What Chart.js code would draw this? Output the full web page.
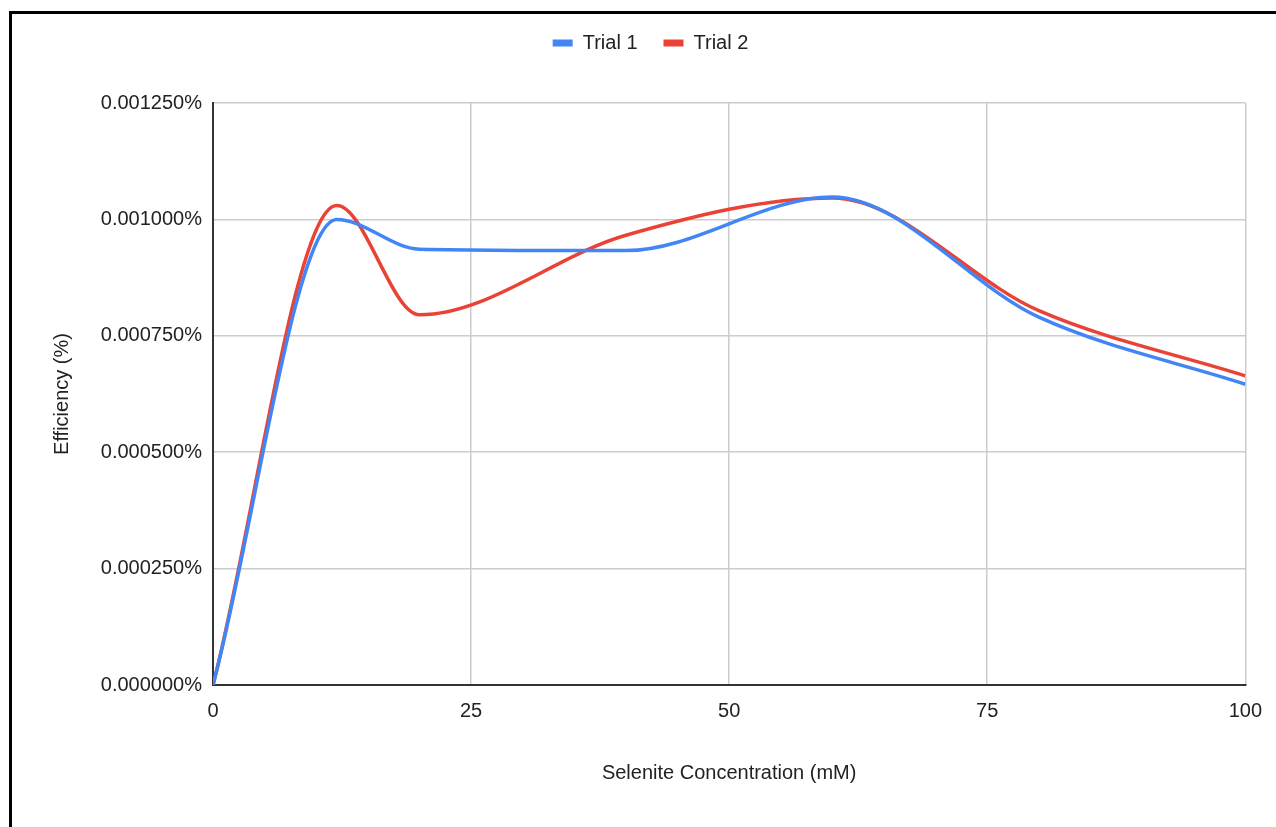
<!DOCTYPE html>
<html>
<head>
<meta charset="utf-8">
<script src="https://cdn.jsdelivr.net/npm/chart.js@4/dist/chart.umd.min.js"></script>
<style>
  html, body { margin: 0; padding: 0; background: #fff; }
  #wrap { position: relative; width: 1276px; height: 827px; }
  #frame { position: absolute; left: 9px; top: 11px; right: -5px; bottom: -5px;
           border-left: 3px solid #000; border-top: 3px solid #000; pointer-events: none; }
  canvas { position: absolute; left: 0; top: 0; }
</style>
</head>
<body>
<div id="wrap">
  <canvas id="c" width="1276" height="827"></canvas>
  <div id="frame"></div>
</div>
<script>
// Selenite concentration (mM)
const concentrations = [0, 12, 20, 40, 60, 80, 100];
// Efficiency (%) values
const trial1 = [0, 0.001000, 0.000936, 0.000933, 0.001048, 0.000790, 0.000646];
const trial2 = [0, 0.001030, 0.000795, 0.000966, 0.001046, 0.000804, 0.000664];
const seriesNames = ['Trial 1', 'Trial 2'];
const xTicks = [0, 25, 50, 75, 100];
const yTicks = [0, 0.00025, 0.0005, 0.00075, 0.001, 0.00125];

const FONT = "'Liberation Sans', Arial, sans-serif";

const legendHeightPlugin = {
  id: 'legendHeight',
  beforeLayout(chart) {
    const lg = chart.legend;
    if (lg && !lg._patched) {
      const f = lg.fit;
      lg.fit = function () { f.call(this); this.height = 96; };
      lg._patched = true;
    }
  }
};

new Chart(document.getElementById('c'), {
  type: 'line',
  data: {
    datasets: [
      { label: seriesNames[0], data: concentrations.map((x, i) => ({ x, y: trial1[i] })),
        borderColor: '#4285F4', backgroundColor: '#4285F4' },
      { label: seriesNames[1], data: concentrations.map((x, i) => ({ x, y: trial2[i] })),
        borderColor: '#EA4335', backgroundColor: '#EA4335' }
    ]
  },
  options: {
    responsive: false,
    animation: false,
    devicePixelRatio: 1,
    layout: { padding: { left: 50, right: 25, top: 7, bottom: 0 } },
    elements: {
      point: { radius: 0, hoverRadius: 0 },
      line: { borderWidth: 3.5, cubicInterpolationMode: 'monotone', fill: false }
    },
    plugins: {
      legend: {
        position: 'top',
        labels: {
          boxWidth: 20, boxHeight: 7, padding: 26, color: '#222',
          font: { family: FONT, size: 20 },
          generateLabels(chart) {
            return Chart.defaults.plugins.legend.labels.generateLabels(chart)
              .map(l => Object.assign(l, { lineWidth: 0 }));
          }
        }
      },
      tooltip: { enabled: false }
    },
    scales: {
      x: {
        type: 'linear', min: 0, max: 100,
        afterBuildTicks(s) { s.ticks = xTicks.map(v => ({ value: v })); },
        afterFit(s) { s.height = 142; },
        grid: { color: '#cccccc', lineWidth: 1.5, drawTicks: false },
        border: { color: '#333333', width: 2 },
        ticks: { color: '#222', padding: 14, font: { family: FONT, size: 20 }, maxRotation: 0 },
        title: { display: true, text: 'Selenite Concentration (mM)', color: '#222',
                 font: { family: FONT, size: 20 }, padding: { top: 0, bottom: 42 } }
      },
      y: {
        type: 'linear', min: 0, max: 0.00125,
        afterBuildTicks(s) { s.ticks = yTicks.map(v => ({ value: v })); },
        afterFit(s) { s.width = 163; },
        grid: { color: '#cccccc', lineWidth: 1.5, drawTicks: false },
        border: { color: '#333333', width: 2 },
        ticks: { color: '#222', padding: 11, font: { family: FONT, size: 20 },
                 callback: v => Number(v).toFixed(6) + '%' },
        title: { display: true, text: 'Efficiency (%)', color: '#222',
                 font: { family: FONT, size: 20 }, padding: { top: 0, bottom: 0 } }
      }
    }
  },
  plugins: [legendHeightPlugin]
});
</script>
</body>
</html>
